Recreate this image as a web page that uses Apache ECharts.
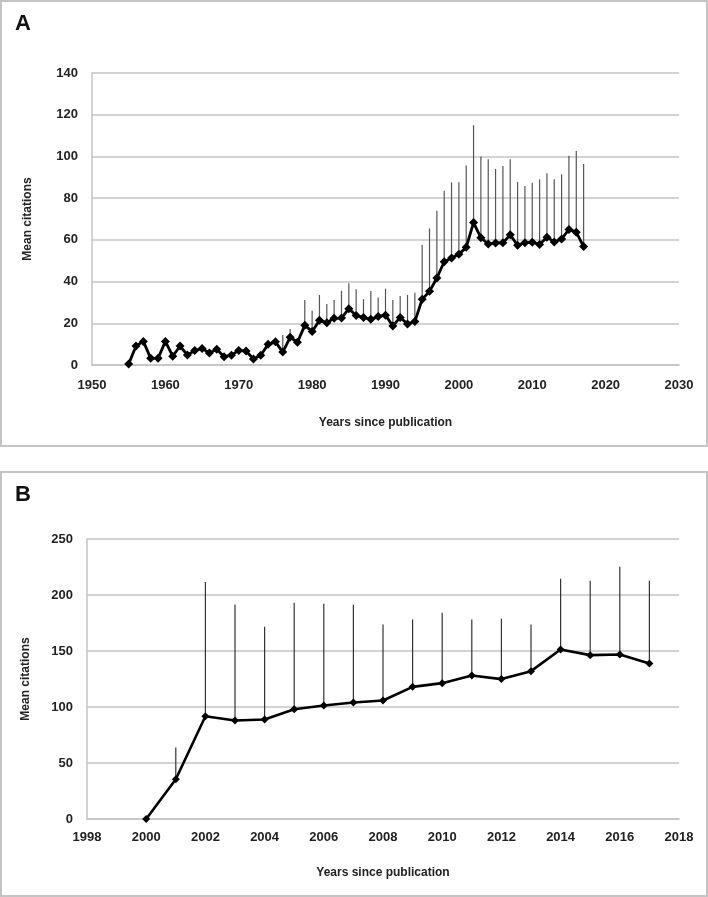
<!DOCTYPE html>
<html lang="en">
<head>
    <meta http-equiv="Content-Type" content="text/html; charset=utf-8">
    <script type="text/javascript" src="https://cdn.jsdelivr.net/npm/echarts@6/dist/echarts.min.js"></script>
    <title>Mean citations</title>
    <style>
        body { margin: 0; background: #fff; }
        .panel { position: absolute; left: 0; width: 708px; box-sizing: border-box; border: 2px solid #c4c4c4; }
        .chart { width: 100%; height: 100%; }
    </style>
</head>
<body>
<div class="panel" style="top: 0; height: 447px;"><div id="chartA" class="chart"></div></div>
<div class="panel" style="top: 471px; height: 426px;"><div id="chartB" class="chart"></div></div>

<script>
// panel A: 1955 - 2017
const yearsA = [1955, 1956, 1957, 1958, 1959, 1960, 1961, 1962, 1963, 1964,
    1965, 1966, 1967, 1968, 1969, 1970, 1971, 1972, 1973, 1974,
    1975, 1976, 1977, 1978, 1979, 1980, 1981, 1982, 1983, 1984,
    1985, 1986, 1987, 1988, 1989, 1990, 1991, 1992, 1993, 1994,
    1995, 1996, 1997, 1998, 1999, 2000, 2001, 2002, 2003, 2004,
    2005, 2006, 2007, 2008, 2009, 2010, 2011, 2012, 2013, 2014,
    2015, 2016, 2017];
const meanA = [0.5, 9.1, 11.3, 3.2, 3.2, 11.3, 4.2, 9.1, 4.8, 6.9,
    7.9, 5.8, 7.6, 4.0, 4.7, 7.0, 6.7, 2.9, 4.7, 9.9,
    11.1, 6.2, 13.3, 10.9, 19.0, 16.1, 21.4, 20.3, 22.4, 22.5,
    27.0, 23.7, 22.8, 21.9, 23.2, 23.9, 18.7, 22.8, 19.7, 20.8,
    31.5, 35.3, 41.7, 49.5, 51.3, 53.1, 56.4, 68.3, 61.0, 58.0,
    58.5, 58.6, 62.4, 57.4, 58.6, 58.9, 57.8, 61.3, 59.0, 60.4,
    65.0, 63.7, 56.8];
// top of the (upper) error bar, null = no visible bar
const upperA = [null, null, null, null, null, null, null, null, null, null,
    null, null, null, null, null, null, null, null, null, null,
    null, 14.4, 17.3, null, 31.2, 26.0, 33.6, 29.2, 31.2, 35.6,
    39.2, 36.3, 31.6, 35.5, 32.4, 36.6, 31.2, 33.1, 33.6, 34.7,
    57.5, 65.5, 74.0, 83.6, 87.6, 87.6, 95.7, 115.0, 100.0, 98.6,
    94.0, 95.4, 98.6, 87.8, 85.8, 87.4, 89.0, 91.9, 89.0, 91.4,
    100.3, 102.6, 96.4];

// panel B: 2000 - 2017
const yearsB = [2000, 2001, 2002, 2003, 2004, 2005, 2006, 2007, 2008,
    2009, 2010, 2011, 2012, 2013, 2014, 2015, 2016, 2017];
const meanB = [0, 35.5, 91.8, 87.9, 88.8, 98.0, 101.3, 104.0, 105.8,
    118.0, 121.3, 128.1, 124.9, 132.0, 151.4, 146.3, 146.9, 138.9];
const upperB = [null, 63.8, 211.6, 191.6, 171.6, 193.0, 192.2, 191.3, 173.7,
    178.2, 184.1, 178.2, 178.8, 173.7, 214.5, 212.8, 225.3, 212.8];

const FONT = "'Liberation Sans', Arial, sans-serif";
const gridColor = '#c4c4c4';

function createPanel(dom, cfg) {
    let chart = echarts.init(dom);
    const errData = cfg.years.map((y, i) => [y, cfg.mean[i], cfg.upper[i]]);
    const lineData = cfg.years.map((y, i) => [y, cfg.mean[i]]);
    const option = {
        animation: false,
        title: {
            text: cfg.letter, left: 8, top: 6,
            textStyle: { fontFamily: FONT, fontSize: 22, fontWeight: 'bold', color: '#111' }
        },
        grid: cfg.grid,
        xAxis: {
            type: 'value', min: cfg.xMin, max: cfg.xMax, interval: cfg.xStep,
            name: 'Years since publication', nameLocation: 'middle', nameGap: cfg.xNameGap,
            nameTextStyle: { fontFamily: FONT, fontSize: 12, fontWeight: 'bold', color: '#222', verticalAlign: 'middle' },
            axisLine: { show: true, lineStyle: { color: gridColor, width: 1.5 } },
            axisTick: { show: false },
            splitLine: { show: false },
            axisLabel: {
                fontFamily: FONT, fontSize: 13, fontWeight: 'bold', color: '#222',
                margin: cfg.xLabelMargin, showMinLabel: true, showMaxLabel: true, hideOverlap: false,
                formatter: v => String(v)
            }
        },
        yAxis: {
            type: 'value', min: 0, max: cfg.yMax, interval: cfg.yStep,
            name: 'Mean citations', nameLocation: 'middle', nameGap: cfg.yNameGap, nameRotate: 90,
            nameTextStyle: { fontFamily: FONT, fontSize: 12, fontWeight: 'bold', color: '#222', verticalAlign: 'middle' },
            axisLine: { show: true, lineStyle: { color: gridColor, width: 1.5 } },
            axisTick: { show: false },
            splitLine: { show: true, lineStyle: { color: gridColor, width: 1.5 } },
            axisLabel: { fontFamily: FONT, fontSize: 13, fontWeight: 'bold', color: '#222', margin: 14 }
        },
        series: [
            {
                type: 'custom',
                z: 1,
                renderItem: function (params, api) {
                    const hi = api.value(2);
                    if (hi == null || isNaN(hi)) return;
                    const p0 = api.coord([api.value(0), api.value(1)]);
                    const p1 = api.coord([api.value(0), hi]);
                    return {
                        type: 'line',
                        shape: { x1: p0[0], y1: p0[1], x2: p1[0], y2: p1[1] },
                        style: { stroke: cfg.barColor, lineWidth: 1.2 }
                    };
                },
                encode: { x: 0, y: 1 },
                data: errData
            },
            {
                type: 'line',
                z: 3,
                data: lineData,
                symbol: 'diamond',
                symbolSize: cfg.symbolSize,
                itemStyle: { color: '#000' },
                lineStyle: { color: '#000', width: cfg.lineWidth }
            }
        ]
    };
    chart.setOption(option);
}

createPanel(document.getElementById('chartA'), {
    letter: 'A', years: yearsA, mean: meanA, upper: upperA,
    grid: { left: 90, right: 27, top: 71, bottom: 80 },
    xMin: 1950, xMax: 2030, xStep: 10, yMax: 140, yStep: 20,
    xNameGap: 58, yNameGap: 64, xLabelMargin: 14,
    barColor: '#555', symbolSize: 9, lineWidth: 2.8
});

createPanel(document.getElementById('chartB'), {
    letter: 'B', years: yearsB, mean: meanB, upper: upperB,
    grid: { left: 85, right: 27, top: 66, bottom: 76 },
    xMin: 1998, xMax: 2018, xStep: 2, yMax: 250, yStep: 50,
    xNameGap: 54, yNameGap: 61, xLabelMargin: 12,
    barColor: '#333', symbolSize: 8, lineWidth: 2.6
});
</script>
</body>
</html>
